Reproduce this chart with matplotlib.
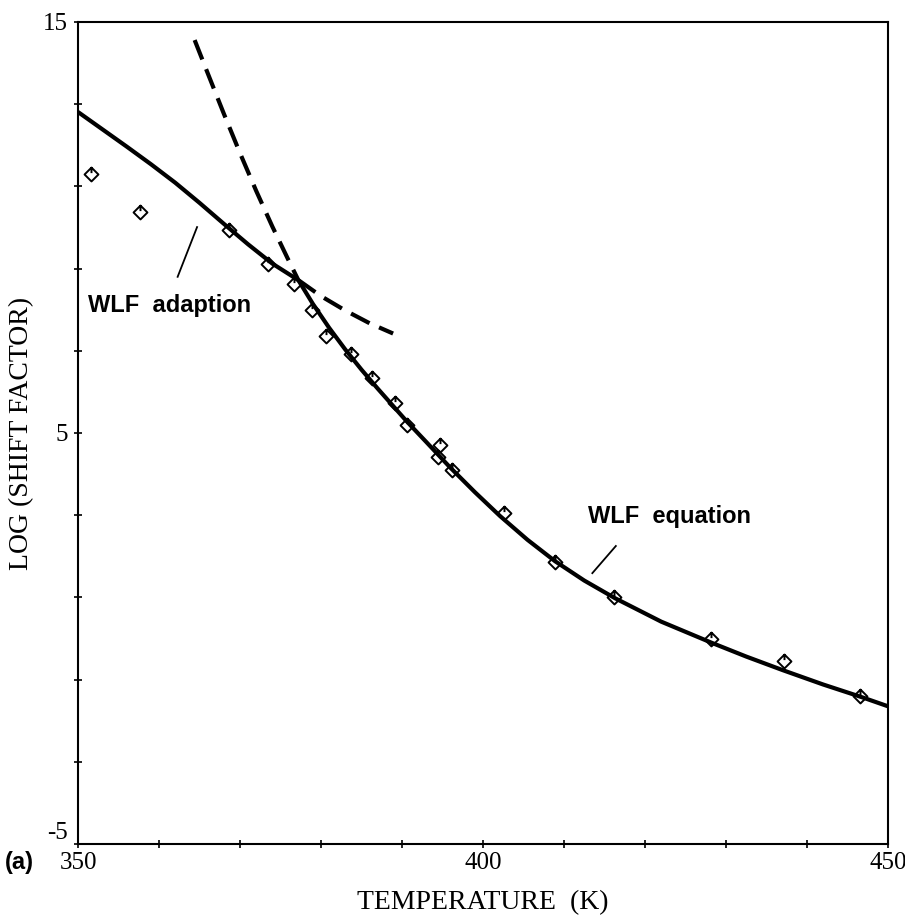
import numpy as np
import matplotlib
matplotlib.use("Agg")
import matplotlib.pyplot as plt
from matplotlib.path import Path

# measured shift factors
temp_pts = [351.6, 357.7, 368.6, 373.5, 376.7, 378.9, 380.6, 383.7, 386.3, 389.1,
            390.6, 394.7, 394.5, 396.2, 402.6, 408.9, 416.2, 428.1, 437.2, 446.5]
shift_pts = [11.29, 10.37, 9.93, 9.12, 8.63, 8.00, 7.37, 6.93, 6.34, 5.73,
             5.20, 4.71, 4.41, 4.10, 3.05, 1.85, 1.02, -0.02, -0.54, -1.41]

# WLF adaption (solid, low T)
adapt_T = [350.0, 353.0, 356.0, 359.0, 362.0, 365.0, 368.0, 371.0, 374.0, 377.2]
adapt_v = [12.81, 12.39, 11.97, 11.54, 11.09, 10.60, 10.09, 9.59, 9.12, 8.72]
# adaption extended (dashed)
adapt_ext_T = [377.2, 380.0, 383.0, 386.0, 388.9]
adapt_ext_v = [8.72, 8.33, 7.98, 7.67, 7.42]

# WLF equation (solid, high T)
wlf_T = [377.2, 379.0, 381.0, 383.0, 385.0, 387.0, 390.6, 393.0, 395.9, 399.0,
         402.1, 405.5, 408.9, 412.5, 416.3, 422.0, 428.3, 432.5, 437.0, 442.0,
         446.8, 450.0]
wlf_v = [8.72, 8.14, 7.56, 7.03, 6.54, 6.08, 5.28, 4.78, 4.17, 3.56,
         2.98, 2.40, 1.88, 1.41, 0.98, 0.41, -0.11, -0.44, -0.77, -1.12,
         -1.43, -1.65]
# WLF equation extended (dashed)
wlf_ext_T = [364.4, 366.0, 368.0, 370.0, 372.0, 374.0, 376.0, 377.2]
wlf_ext_v = [14.56, 13.76, 12.77, 11.81, 10.89, 10.02, 9.20, 8.72]

serif = "Liberation Serif"
sans = "Liberation Sans"

fig = plt.figure(figsize=(9.05, 9.24), dpi=100)
ax = fig.add_axes([0.0862, 0.0866, 0.8950, 0.8896])

ax.plot(adapt_T, adapt_v, color="black", lw=3, solid_capstyle="butt", solid_joinstyle="round")
ax.plot(wlf_T, wlf_v, color="black", lw=3, solid_capstyle="butt", solid_joinstyle="round")
ax.plot(adapt_ext_T, adapt_ext_v, color="black", lw=3, dashes=(5, 2.5))
ax.plot(wlf_ext_T, wlf_ext_v, color="black", lw=3, dashes=(5, 2.5))

# diamond with a small tick inside
diamond = Path([(0, 1), (1, 0), (0, -1), (-1, 0), (0, 1), (0, 1), (0, 0.2)],
               [Path.MOVETO, Path.LINETO, Path.LINETO, Path.LINETO, Path.CLOSEPOLY,
                Path.MOVETO, Path.LINETO])
ax.plot(temp_pts, shift_pts, linestyle="none", marker=diamond, ms=10,
        mfc="none", mec="black", mew=1.4)

ax.set_xlim(350, 450)
ax.set_ylim(-5, 15)
ax.set_xticks(np.arange(350, 451, 10))
ax.set_xticklabels(["350", "", "", "", "", "400", "", "", "", "", "450"])
ax.set_yticks(np.arange(-5, 16, 2))
ax.set_yticklabels(["-5", "", "", "", "", "5", "", "", "", "", "15"])
ax.tick_params(direction="inout", length=6, width=1.2, labelsize=18)
ax.tick_params(axis="y", pad=4)
ax.tick_params(axis="x", pad=3)
for lab in ax.get_xticklabels() + ax.get_yticklabels():
    lab.set_family(serif)
# the -5 label sits above the corner in the original
ax.get_yticklabels()[0].set_verticalalignment("bottom")
for s in ax.spines.values():
    s.set_linewidth(1.5)

fig.text(483 / 905, 1 - 903 / 924, "TEMPERATURE  (K)", family=serif, fontsize=20,
         ha="center", va="center")
fig.text(22 / 905, 1 - 433 / 924, "LOG (SHIFT FACTOR)", family=serif, fontsize=20,
         rotation=90, ha="center", va="center")

fig.text(5 / 905, 1 - 863 / 924, "(a)", family=sans, fontsize=17,
         fontweight="bold", va="center", ha="left")

ax.text(351.2, 8.11, "WLF  adaption", family=sans, fontsize=17,
        fontweight="bold", va="center", ha="left")
ax.plot([362.3, 364.7], [8.80, 10.01], color="black", lw=1.3)
ax.text(413.0, 2.96, "WLF  equation", family=sans, fontsize=17,
        fontweight="bold", va="center", ha="left")
ax.plot([413.5, 416.4], [1.59, 2.25], color="black", lw=1.3)

fig.savefig("out.png", dpi=100)
